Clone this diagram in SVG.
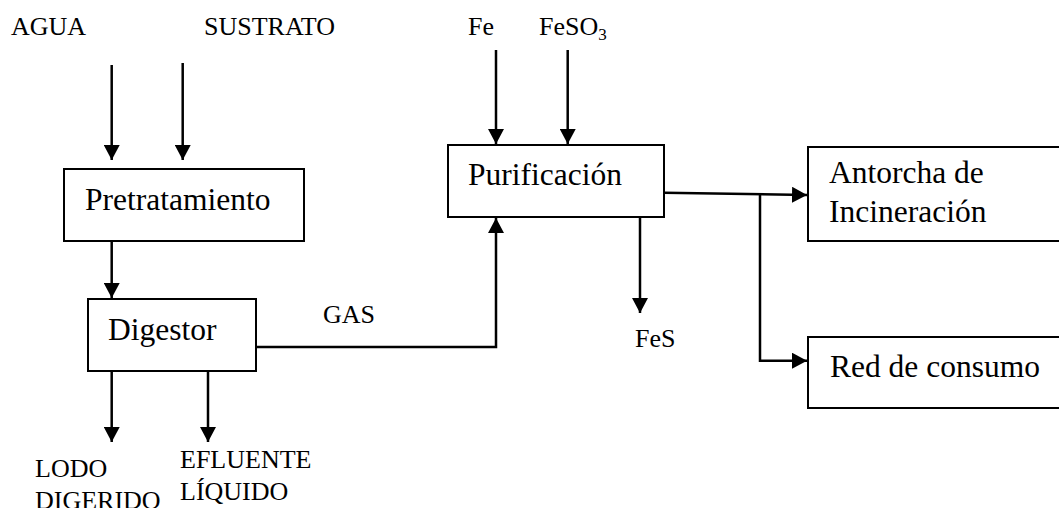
<svg xmlns="http://www.w3.org/2000/svg" width="1059" height="508" viewBox="0 0 1059 508">
<style>
.box{fill:#fff;stroke:#000;stroke-width:2}
.t{font-family:"Liberation Serif","Times New Roman",serif;font-size:31.5px;fill:#000}
.l{font-family:"Liberation Serif","Times New Roman",serif;font-size:26px;fill:#000}
.c{fill:none;stroke:#000;stroke-width:2.5}
</style>
<defs>
<marker id="ah" viewBox="0 0 15 16" refX="15" refY="8" markerWidth="15" markerHeight="16" markerUnits="userSpaceOnUse" orient="auto">
<path d="M0,0 L15,8 L0,16 z" fill="#000"/>
</marker>
</defs>
<rect width="1059" height="508" fill="#fff"/>
<g id="labels">
<text class="l" x="11" y="35">AGUA</text>
<text class="l" x="204" y="35">SUSTRATO</text>
<text class="l" x="468" y="35">Fe</text>
<text class="l" x="539" y="35">FeSO<tspan font-size="17" dy="5">3</tspan></text>
<text class="l" x="323" y="323">GAS</text>
<text class="l" x="635" y="347">FeS</text>
<text class="l" x="35" y="477">LODO</text>
<text class="l" x="35" y="509">DIGERIDO</text>
<text class="l" x="180" y="468">EFLUENTE</text>
<text class="l" x="180" y="500">LÍQUIDO</text>
</g>
<g id="connectors">
<path class="c" d="M111.7,65 V160" marker-end="url(#ah)"/>
<path class="c" d="M182.7,63 V160" marker-end="url(#ah)"/>
<path class="c" d="M111.7,241 V298" marker-end="url(#ah)"/>
<path class="c" d="M111.7,371 V442" marker-end="url(#ah)"/>
<path class="c" d="M208,371 V442" marker-end="url(#ah)"/>
<path class="c" d="M256,347 H496 V218" marker-end="url(#ah)"/>
<path class="c" d="M496,50 V144" marker-end="url(#ah)"/>
<path class="c" d="M567.7,50 V144" marker-end="url(#ah)"/>
<path class="c" d="M640,217 V313" marker-end="url(#ah)"/>
<path class="c" d="M664,192.7 L807,195" marker-end="url(#ah)"/>
<path class="c" d="M760,194 V360.7 H807" marker-end="url(#ah)"/>
</g>
<g id="pretratamiento">
<rect class="box" x="64" y="169" width="240" height="72"/>
<text class="t" x="85" y="210">Pretratamiento</text>
</g>
<g id="digestor">
<rect class="box" x="88" y="299" width="168" height="72"/>
<text class="t" x="108" y="340">Digestor</text>
</g>
<g id="purificacion">
<rect class="box" x="448" y="145" width="216" height="72"/>
<text class="t" x="468" y="185">Purificación</text>
</g>
<g id="antorcha">
<rect class="box" x="808" y="147" width="270" height="94"/>
<text class="t" x="829" y="183">Antorcha de</text>
<text class="t" x="829" y="222">Incineración</text>
</g>
<g id="red">
<rect class="box" x="808" y="337" width="270" height="71"/>
<text class="t" x="830" y="377">Red de consumo</text>
</g>
</svg>
